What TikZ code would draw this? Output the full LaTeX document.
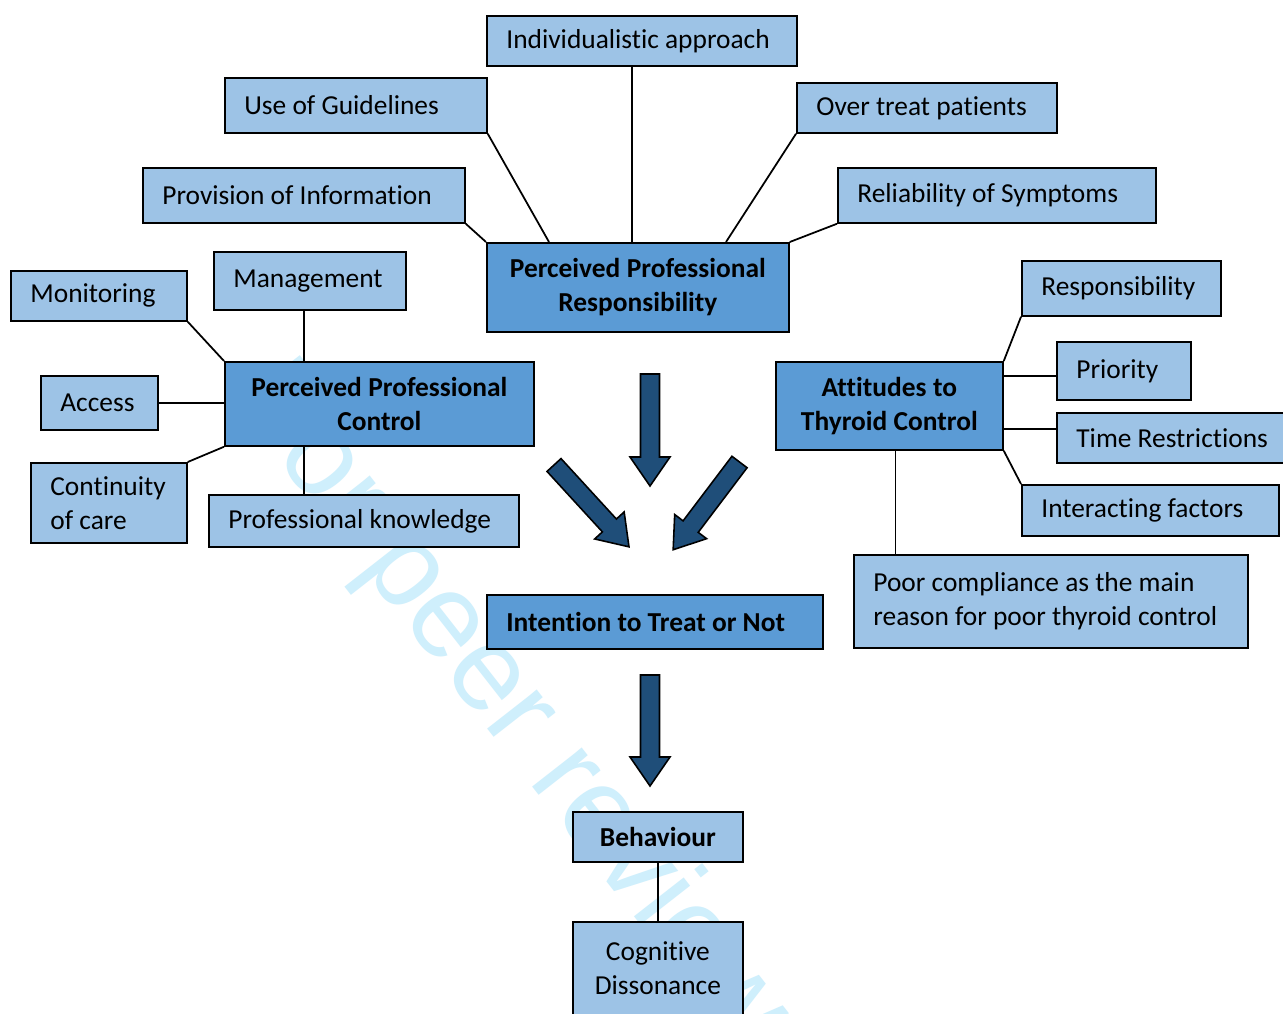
\documentclass[tikz,border=0pt]{standalone}
\usepackage{fontspec}
\setmainfont{Carlito}[Ligatures=CommonOff]
\setsansfont{Liberation Sans}
\usetikzlibrary{calc}
\definecolor{lightb}{HTML}{9DC3E6}
\definecolor{darkb}{HTML}{5B9BD5}
\definecolor{arrowb}{HTML}{1F4E79}
\definecolor{wmcol}{RGB}{207,239,252}
\hyphenpenalty=10000
\exhyphenpenalty=10000
\newcommand\tightsp{\spaceskip=0.226em plus 0.02em minus 0.02em\relax}

\newcommand\mybox[8]{%
  \pgfmathsetmacro\bw{(#5-#3)*0.02}%
  \pgfmathsetmacro\bh{(#6-#4)*0.02}%
  \pgfmathsetmacro\bp{#7*0.02}%
  \pgfmathsetmacro\tw{(#5-#3-2*#7)*0.02}%
  \node[#1, anchor=north west, minimum width=\bw cm, minimum height=\bh cm,
        inner xsep=\bp cm, text width=\tw cm] (#2) at (#3,#4) {#8};}

\newcommand\barrow[4]{%
  \pgfmathsetmacro\hs{#4-29}%
  \begin{scope}[shift={(#1,#2)}, rotate=#3]
    \draw[blockarrow] (0,9.5) -- (\hs,9.5) -- (\hs,20) -- (#4,0) -- (\hs,-20)
      -- (\hs,-9.5) -- (0,-9.5) -- cycle;
  \end{scope}}

\tikzset{
  base/.style={draw=black, line width=1pt, rectangle, inner ysep=1pt,
    font=\fontsize{15.6pt}{19.3pt}\selectfont, execute at begin node=\tightsp},
  lbox/.style={base, fill=lightb, align=left},
  dbox/.style={base, fill=darkb, align=center, font=\fontsize{15.6pt}{19.3pt}\selectfont\bfseries},
  dlbox/.style={base, fill=darkb, align=left, font=\fontsize{15.6pt}{19.3pt}\selectfont\bfseries},
  cbox/.style={base, fill=lightb, align=center},
  cboxbold/.style={base, fill=lightb, align=center, font=\fontsize{15.6pt}{19.3pt}\selectfont\bfseries},
  conn/.style={draw=black, line width=1pt},
  blockarrow/.style={fill=arrowb, draw=black, line width=0.9pt, line join=miter},
  wmark/.style={text=wmcol, font=\fontsize{68pt}{80pt}\selectfont\sffamily, inner sep=0pt}
}

\begin{document}
\begin{tikzpicture}[x=0.02cm, y=-0.02cm]
\useasboundingbox (0,0) rectangle (1283,1013);
\fill[white] (0,0) rectangle (1283,1013);

% watermark
\node[wmark, rotate=-52, anchor=base west] (wm) at (229,398) {For peer review only};

% boxes
\mybox{lbox}{ind}{486}{15}{796}{65}{19.5}{Individualistic approach}
\mybox{lbox}{gui}{224}{77}{486}{132}{19.5}{Use of Guidelines}
\mybox{lbox}{over}{796}{82}{1056}{132}{19.5}{Over treat patients}
\mybox{lbox}{prov}{142}{167}{464}{222}{19.5}{Provision of Information}
\mybox{lbox}{rel}{837}{167}{1155}{222}{19.5}{Reliability of Symptoms}
\mybox{dbox}{ppr}{486}{242}{788}{331}{6}{Perceived Professional\\Responsibility}
\mybox{lbox}{man}{213}{251}{405}{309}{19.5}{Management}
\mybox{lbox}{mon}{10}{270}{186}{320}{19.5}{Monitoring}
\mybox{lbox}{acc}{40}{375}{157}{429}{19.5}{Access}
\mybox{dbox}{ppc}{224}{361}{533}{445}{6}{Perceived Professional\\Control}
\mybox{lbox}{cont}{30}{462}{186}{542}{19.5}{Continuity\\of care}
\mybox{lbox}{know}{208}{494}{518}{546}{19.5}{Professional knowledge}
\mybox{dbox}{atc}{775}{361}{1002}{449}{6}{Attitudes to\\Thyroid Control}
\mybox{lbox}{resp}{1021}{260}{1220}{315}{19.5}{Responsibility}
\mybox{lbox}{prio}{1056}{341}{1190}{399}{19.5}{Priority}
\mybox{lbox}{time}{1056}{412}{1292}{462}{19.5}{Time Restrictions}
\mybox{lbox}{inter}{1021}{484}{1278}{535}{19.5}{Interacting factors}
\mybox{lbox}{poor}{853}{554}{1247}{647}{19.5}{Poor compliance as the main\\reason for poor thyroid control}
\mybox{dlbox}{int}{486}{594}{822}{648}{19.5}{Intention to Treat or Not}
\mybox{cboxbold}{beh}{572}{811}{742}{861}{6}{Behaviour}
\mybox{cbox}{cog}{572}{921}{742}{1014}{6}{Cognitive\\Dissonance}

% connectors around Perceived Professional Responsibility
\coordinate (r1) at ($(ppr.north west)+(146,0)$);
\coordinate (r2) at ($(ppr.north west)+(63,0)$);
\coordinate (r3) at ($(ppr.north west)+(240,0)$);
\draw[conn] (r1) -- (r1 |- ind.south);
\draw[conn] (gui.south east) -- (r2);
\draw[conn] (over.south west) -- (r3);
\draw[conn] (prov.south east) -- (ppr.north west);
\draw[conn] (rel.south west) -- (ppr.north east);

% connectors around Perceived Professional Control
\coordinate (c1) at ($(ppc.north west)+(80,0)$);
\coordinate (c2) at ($(ppc.south west)+(80,0)$);
\draw[conn] (c1) -- (c1 |- man.south);
\draw[conn] (mon.south east) -- (ppc.north west);
\draw[conn] (acc.east) -- (acc.east -| ppc.west);
\draw[conn] (cont.north east) -- (ppc.south west);
\draw[conn] (c2) -- (c2 |- know.north);

% connectors around Attitudes to Thyroid Control
\coordinate (a1) at ($(prio.west)+(0,5)$);
\coordinate (a2) at ($(time.north west)+(0,17)$);
\coordinate (a3) at ($(atc.south)+(6,0)$);
\draw[conn] (atc.north east) -- (resp.south west);
\draw[conn] (a1) -- (a1 -| atc.east);
\draw[conn] (a2) -- (a2 -| atc.east);
\draw[conn] (atc.south east) -- (inter.north west);
\draw[conn] (a3) -- (a3 |- poor.north);

\draw[conn] (beh.south) -- (cog.north);

% block arrows
\barrow{650}{374}{-90}{112}
\barrow{554}{465}{-47.5}{111}
\barrow{739.5}{462}{-127.1}{110}
\barrow{650}{675}{-90}{111}
\end{tikzpicture}
\end{document}
